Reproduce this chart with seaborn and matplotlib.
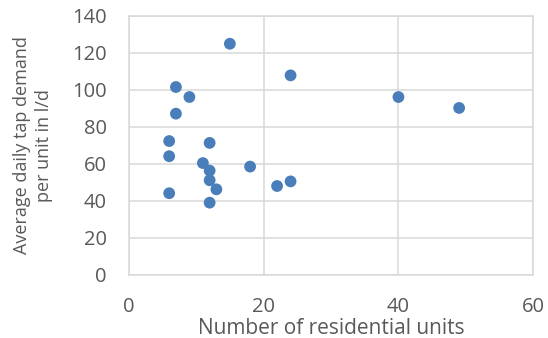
import matplotlib
matplotlib.use("Agg")
import matplotlib.pyplot as plt
import seaborn as sns
import pandas as pd

units = [6, 6, 6, 7, 7, 9, 11, 12, 12, 12, 12, 13, 15, 18, 22, 24, 24, 40, 49]
demand = [72.4, 64.2, 44.2, 101.6, 87.2, 96.2, 60.5, 71.4, 56.4, 51.2, 39.1, 46.3, 125.0, 58.6, 48.1, 50.6, 107.9, 96.2, 90.3]

df = pd.DataFrame({"units": units, "demand": demand})

sns.set_style("white")
plt.rcParams['font.family'] = ['Open Sans', 'DejaVu Sans']

fig = plt.figure(figsize=(5.48, 3.38), dpi=100)
ax = fig.add_axes([0.2349, 0.1864, 0.9732 - 0.2349, 0.9527 - 0.1864])

sns.scatterplot(data=df, x="units", y="demand", ax=ax, color="#4A7EBB",
                s=72, edgecolor="none", zorder=3, clip_on=False)

ax.set_xlim(0, 60)
ax.set_ylim(0, 140)
ax.set_xticks([0, 20, 40, 60])
ax.set_yticks(range(0, 141, 20))
ax.grid(True, color="#D9D9D9", linewidth=1.1)
ax.set_axisbelow(True)
for sp in ax.spines.values():
    sp.set_color("#D9D9D9")
    sp.set_linewidth(1.1)
ax.tick_params(length=0, labelsize=14.5, labelcolor="#595959", pad=16)
xl = ax.set_xlabel("Number of residential units", fontsize=15, color="#595959")
yl = ax.set_ylabel("Average daily tap demand\nper unit in l/d", fontsize=13, color="#595959",
                   linespacing=1.25)
xl.set_va("center")
yl.set_va("center")
ax.xaxis.set_label_coords(0.5, -0.205)
ax.yaxis.set_label_coords(-0.2365, 0.5)

fig.savefig("out.png", dpi=100)
